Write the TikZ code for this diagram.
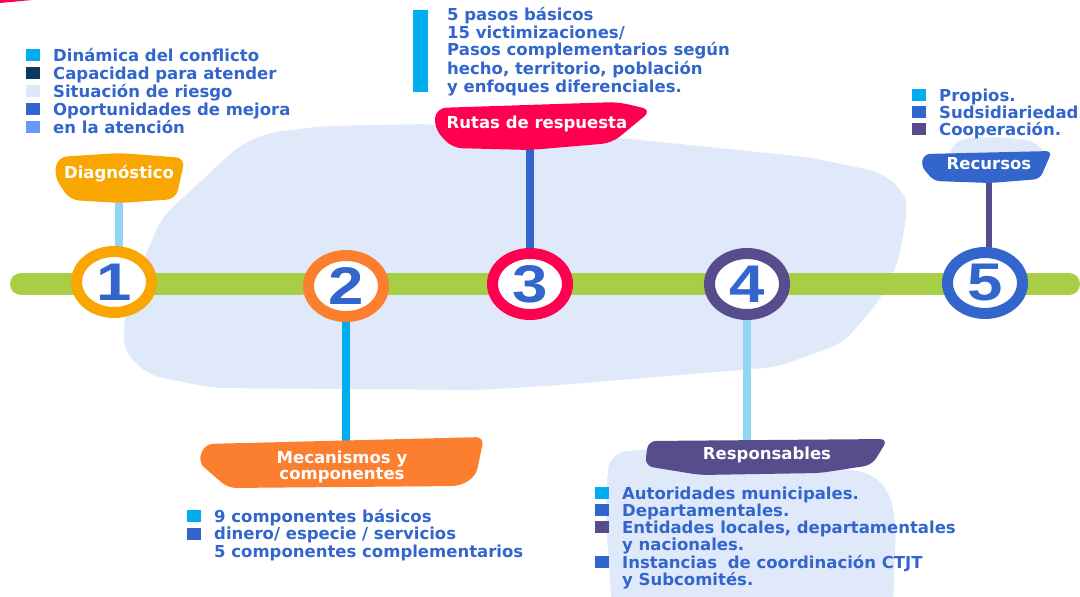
\documentclass[tikz,border=0pt]{standalone}
\usepackage{fontspec}
\setmainfont{DejaVu Sans}
\newfontfamily\digitfont[FakeStretch=1.2]{Liberation Sans}
\usetikzlibrary{shapes.geometric,positioning}
\definecolor{lineGreen}{RGB}{168,206,70}
\definecolor{paleBack}{RGB}{224,233,250}
\definecolor{textBlue}{RGB}{51,102,204}
\definecolor{ambarOne}{RGB}{250,166,0}
\definecolor{orangeTwo}{RGB}{252,126,47}
\definecolor{redThree}{RGB}{255,0,80}
\definecolor{purpleFour}{RGB}{87,76,140}
\definecolor{blueFive}{RGB}{51,102,204}
\definecolor{sqCyan}{RGB}{0,174,239}
\definecolor{sqLight}{RGB}{145,213,244}
\definecolor{sqNavy}{RGB}{14,55,96}
\definecolor{sqPale}{RGB}{222,231,249}
\definecolor{sqMid}{RGB}{106,152,248}
\newcommand{\Sq}[1]{{\color{#1}\rule{14pt}{12pt}}\hspace{13pt}}
\newcommand{\NoSq}{\hspace{27pt}}
\pgfdeclarelayer{back}
\pgfdeclarelayer{mid}
\pgfsetlayers{back,mid,main}

\begin{document}
\begin{tikzpicture}[x=1pt,y=-1pt,
  ring/.style={ellipse,draw=#1,line width=11pt,fill=white,minimum width=75pt,minimum height=61pt,inner sep=0pt,text=textBlue,font=\digitfont\bfseries\fontsize{53}{53}\selectfont},
  tag/.style={inner sep=0pt,align=center,text=white,font=\bfseries\fontsize{16.5}{16.5}\selectfont},
  items/.style={anchor=base west,inner sep=0pt,align=left,text=textBlue,font=\bfseries\fontsize{16.5}{#1}\selectfont},
  items/.default=18,
  link/.style={draw=#1,line width=8pt}]
\useasboundingbox (0,0) rectangle (1080,597);
\fill[redThree] (0,0) -- (32,0) -- (0,3) -- cycle;

% timeline
\node[ring=ambarOne] (c1) at (114,282) {1};
\node[ring=orangeTwo] (c2) at (346,286) {2};
\node[ring=redThree] (c3) at (530,284) {3};
\node[ring=purpleFour] (c4) at (747,284) {4};
\node[ring=blueFive] (c5) at (985,283) {5};
\coordinate (barL) at (21,284);
\coordinate (barR) at (1069,284);

% tags
\fill[ambarOne,rounded corners=9pt] (58,157) -- (120,153) -- (185,158) -- (176,199) -- (120,203) -- (70,200) -- (54,176) -- cycle;
\node[tag] (diag) at (119,174) {Diagnóstico};
\fill[redThree,rounded corners=10pt] (436,108) -- (618,102) -- (652,110) -- (612,143) -- (530,150) -- (452,148) -- (434,128) -- cycle;
\node[tag] (rutas) at (537,124) {Rutas de respuesta};
\fill[blueFive,rounded corners=6pt] (924,154) -- (1052,151) -- (1040,179) -- (990,183) -- (934,181) -- (921,166) -- cycle;
\node[tag] (recur) at (989,164) {Recursos};
\fill[orangeTwo,rounded corners=8pt] (205,444) -- (484,437) -- (476,476) -- (460,486) -- (228,488) -- (198,462) -- cycle;
\node[tag] (meca) at (342,467) {Mecanismos y\\componentes};
\fill[purpleFour,rounded corners=8pt] (648,441) -- (888,439) -- (872,465) -- (820,473) -- (700,475) -- (645,466) -- cycle;
\node[tag] (resp) at (767,455) {Responsables};

% lists (anchored on the last baseline)
\node[items] (diagList) at (26,133) {\Sq{sqCyan}Dinámica del conflicto\\
  \Sq{sqNavy}Capacidad para atender\\
  \Sq{sqPale}Situación de riesgo\\
  \Sq{textBlue}Oportunidades de mejora\\
  \Sq{sqMid}en la atención};
\fill[sqCyan] (413,10) rectangle (428,92);
\node[items] (rutasList) at (447,92) {5 pasos básicos\\
  15 victimizaciones/\\
  Pasos complementarios según\\
  hecho, territorio, población\\
  y enfoques diferenciales.};
\node[items=17] (recurList) at (912,135) {\Sq{sqCyan}Propios.\\
  \Sq{textBlue}Sudsidiariedad.\\
  \Sq{purpleFour}Cooperación.};
\node[items=17.5] (mecaList) at (187,557) {\Sq{sqCyan}9 componentes básicos\\
  \Sq{textBlue}dinero/ especie / servicios\\
  \NoSq 5 componentes complementarios};
\node[items=17] (respList) at (595,585) {\Sq{sqCyan}Autoridades municipales.\\
  \Sq{textBlue}Departamentales.\\
  \Sq{purpleFour}Entidades locales, departamentales\\
  \NoSq y nacionales.\\[1pt]
  \Sq{textBlue}Instancias\hspace{5pt} de coordinación CTJT\\
  \NoSq y Subcomités.};

\begin{pgfonlayer}{mid}
\draw[lineGreen,line width=22pt,line cap=round] (barL) -- (barR);
\draw[link=sqLight] (diag) -- (diag |- c1);
\draw[link=textBlue] (c3) -- (c3 |- rutas);
\draw[link=purpleFour,line width=6pt] (recur) -- (recur |- c5);
\draw[link=sqCyan] (c2) -- (c2 |- meca);
\draw[link=sqLight] (c4) -- (c4 |- resp);
\end{pgfonlayer}

\begin{pgfonlayer}{back}
\fill[paleBack,rounded corners=14pt] (240,145) -- (267,133) -- (323,126) -- (430,124) -- (620,138) -- (807,157) -- (880,172) -- (903,190) -- (908,207) -- (898,264) -- (880,300) -- (843,343) -- (777,367) -- (560,385) -- (480,390) -- (213,388) -- (148,375) -- (123,350) -- (125,313) -- (140,268) -- (162,217) -- cycle;
\fill[paleBack,rounded corners=14pt] (612,453) -- (645,449) -- (870,472) -- (890,492) -- (896,525) -- (893,610) -- (612,610) -- (606,520) -- (607,472) -- cycle;
\fill[paleBack,rounded corners=10pt] (948,150) -- (962,138) -- (1000,137) -- (1036,141) -- (1046,156) -- (1040,172) -- (955,172) -- cycle;
\end{pgfonlayer}
\end{tikzpicture}
\end{document}
